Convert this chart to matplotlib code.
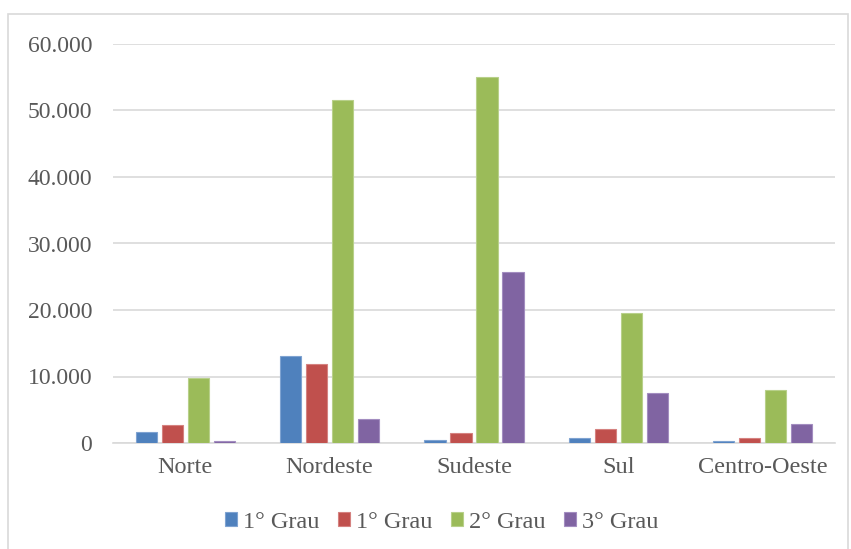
import matplotlib
matplotlib.use("Agg")
import matplotlib.pyplot as plt
from matplotlib.patches import Rectangle
import numpy as np

regions = ["Norte", "Nordeste", "Sudeste", "Sul", "Centro-Oeste"]
series_labels = ["1° Grau", "1° Grau", "2° Grau", "3° Grau"]
grau1a = [1650, 13080, 450, 700, 350]
grau1b = [2700, 11900, 1550, 2060, 800]
grau2 = [9730, 51600, 55040, 19550, 8020]
grau3 = [350, 3650, 25710, 7520, 2860]
yticks = [0, 10000, 20000, 30000, 40000, 50000, 60000]
ytick_labels = ["0", "10.000", "20.000", "30.000", "40.000", "50.000", "60.000"]

colors = ["#4F81BD", "#C0504D", "#9BBB59", "#8064A2"]
edges = ["#7FA3D1", "#D58280", "#B8D08A", "#A38DC0"]

plt.rcParams["font.family"] = ["Liberation Serif", "DejaVu Serif"]

W, H = 851, 549
fig = plt.figure(figsize=(W / 100, H / 100), dpi=100)
fig.patch.set_facecolor("white")

# outer chart frame
fig.patches.append(Rectangle((8 / W, -0.01), (848 - 8) / W, (H - 14) / H + 0.01,
                             transform=fig.transFigure, fill=False,
                             edgecolor="#D9D9D9", linewidth=1.2))

ax = fig.add_axes([113 / W, (H - 443) / H, (835 - 113) / W, (443 - 44) / H])

x = np.arange(len(regions))
width = 0.146
pitch = 0.18
data = [grau1a, grau1b, grau2, grau3]
for i, (vals, c, ec, lab) in enumerate(zip(data, colors, edges, series_labels)):
    ax.bar(x + (i - 1.5) * pitch, vals, width, color=c, edgecolor=ec,
           linewidth=0.8, label=lab, zorder=3)

ax.set_xlim(-0.5, len(regions) - 0.5)
ax.set_ylim(0, 60000)
ax.set_yticks(yticks)
ax.set_yticklabels(ytick_labels)
ax.set_xticks(x)
ax.set_xticklabels(regions)
ax.grid(axis="y", color="#D9D9D9", linewidth=1.2, zorder=0)
for s in ["top", "right", "left"]:
    ax.spines[s].set_visible(False)
ax.spines["bottom"].set_color("#D9D9D9")
ax.spines["bottom"].set_linewidth(1.2)
ax.tick_params(axis="both", length=0, labelcolor="#595959")
ax.tick_params(axis="y", pad=15, labelsize=17)
ax.tick_params(axis="x", pad=10, labelsize=17.5)

leg = fig.legend(loc="center", bbox_to_anchor=(442 / W, (H - 522) / H), ncol=4,
                 frameon=False, fontsize=17.5, handlelength=0.5, handleheight=0.5,
                 handletextpad=0.25, columnspacing=0.75)
for t in leg.get_texts():
    t.set_color("#595959")

fig.savefig("out.png", dpi=100, facecolor="white")
